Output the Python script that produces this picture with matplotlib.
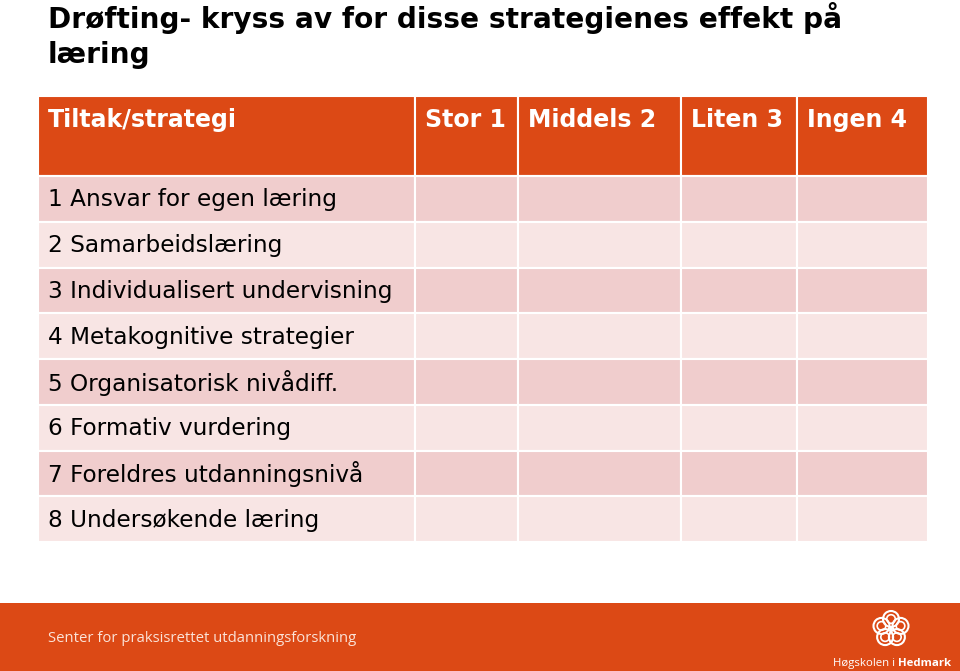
import matplotlib.pyplot as plt
from matplotlib.patches import Rectangle, Circle
import numpy as np

# innhold i tabellen
title_lines = ['Drøfting- kryss av for disse strategienes effekt på', 'læring']
headers = ['Tiltak/strategi', 'Stor 1', 'Middels 2', 'Liten 3', 'Ingen 4']
strategies = ['1 Ansvar for egen læring', '2 Samarbeidslæring', '3 Individualisert undervisning',
              '4 Metakognitive strategier', '5 Organisatorisk nivådiff.', '6 Formativ vurdering',
              '7 Foreldres utdanningsnivå', '8 Undersøkende læring']
footer_text = 'Senter for praksisrettet utdanningsforskning'

orange = '#DC4915'
row_a = '#F0CDCD'
row_b = '#F8E5E4'

W, H = 960, 671
fig = plt.figure(figsize=(W / 100, H / 100), dpi=100)
ax = fig.add_axes([0, 0, 1, 1])
ax.set_xlim(0, W)
ax.set_ylim(H, 0)
ax.axis('off')

# tittel
ax.text(48, 28, title_lines[0], fontsize=20.2, fontweight='bold', family='DejaVu Sans', va='baseline')
ax.text(48, 63, title_lines[1], fontsize=20.2, fontweight='bold', family='DejaVu Sans', va='baseline')

# tabell
col_x = [38, 415, 518, 681, 797, 928]
head_top, head_bot = 96, 176
row_h = (542 - head_bot) / len(strategies)

for j in range(len(headers)):
    ax.add_patch(Rectangle((col_x[j], head_top), col_x[j + 1] - col_x[j], head_bot - head_top,
                           facecolor=orange, edgecolor='white', lw=1.5))
    ax.text(col_x[j] + 10, 127, headers[j], fontsize=17, fontweight='bold', color='white',
            family='DejaVu Sans', va='baseline')

for i, s in enumerate(strategies):
    y0 = head_bot + i * row_h
    fc = row_a if i % 2 == 0 else row_b
    for j in range(len(headers)):
        ax.add_patch(Rectangle((col_x[j], y0), col_x[j + 1] - col_x[j], row_h,
                               facecolor=fc, edgecolor='white', lw=1.5))
    ax.text(48, y0 + row_h / 2 + 1, s, fontsize=16.7, family='DejaVu Sans', va='center')

# bunntekst
ax.add_patch(Rectangle((0, 603), W, H - 603, facecolor=orange, edgecolor='none'))
ax.text(48, 638, footer_text, fontsize=10.7, color='#FBE3D8', family='Open Sans', va='center')

# logo
cx, cy = 891, 629
for k in range(5):
    a = np.pi / 2 + k * 2 * np.pi / 5
    px, py = cx + 10 * np.cos(a), cy - 10 * np.sin(a)
    ax.add_patch(Circle((px, py), 8, facecolor='none', edgecolor='white', lw=1.5))
    ax.add_patch(Circle((px, py), 4.3, facecolor='none', edgecolor='white', lw=1.2))
ax.add_patch(Circle((cx, cy), 1.5, facecolor='white', edgecolor='none'))
t = ax.text(833, 666, 'Høgskolen i ', fontsize=8.2, color='white', family='Open Sans', va='baseline')
ax.annotate('Hedmark', xycoords=t, xy=(1, 0), va='bottom', fontsize=8.2, fontweight='bold',
            color='white', family='Open Sans')

fig.savefig('out.png', dpi=100)
